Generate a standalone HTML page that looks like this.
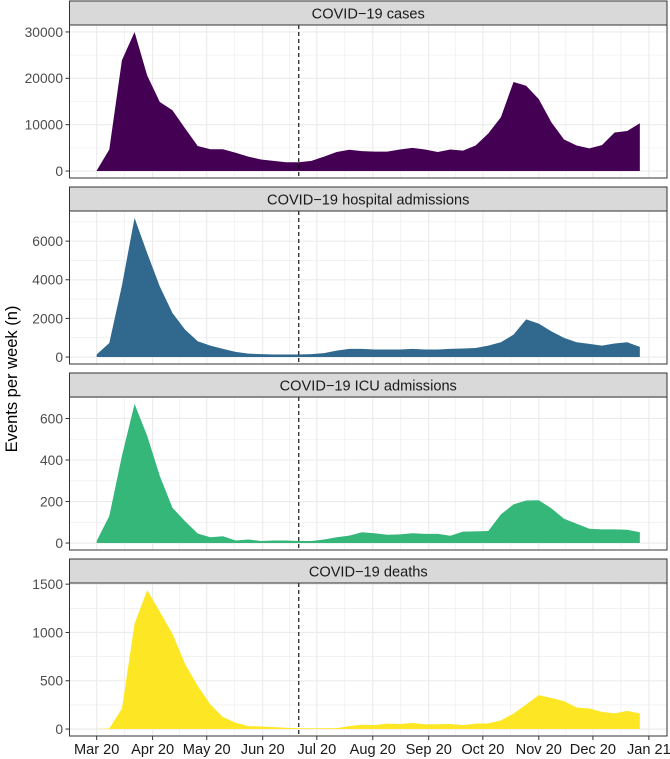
<!DOCTYPE html>
<html><head><meta charset="utf-8"><style>
html,body{margin:0;padding:0;background:#fff;}
svg{display:block;font-family:"Liberation Sans",Arial,sans-serif;}
</style></head><body>
<svg id="chart" width="670" height="759" viewBox="0 0 670 759" xmlns="http://www.w3.org/2000/svg"></svg>
<script>
// ---- data ----
const startDay = 0; // week 0 = 1 Mar 2020 (days since 1 Mar 2020)
const weekStepDays = 7;
const cases = [100,4650,23900,30000,20600,14900,13100,9200,5400,4700,4700,3950,3100,2500,2200,1900,1900,2200,3100,4100,4600,4300,4200,4200,4650,5000,4650,4100,4650,4400,5500,8100,11600,19200,18400,15500,10500,6800,5500,4900,5600,8300,8650,10300];
const hospital = [130,730,3700,7200,5380,3650,2280,1420,815,590,420,270,180,150,130,130,130,150,200,335,420,420,390,390,390,420,390,390,420,440,470,590,765,1160,1950,1730,1330,990,765,680,590,700,765,525];
const icu = [10,130,420,670,517,323,170,105,46,28,33,12,17,10,12,12,10,10,17,28,36,52,47,40,42,47,44,44,35,55,56,58,138,186,205,206,167,117,93,69,66,66,64,52];
const deaths = [2,5,211,1090,1440,1214,987,674,447,256,123,65,30,27,20,14,8,8,8,10,30,45,40,56,52,63,49,49,52,40,56,59,90,160,254,351,322,289,223,213,178,162,188,162];
const panelTitles = ["COVID\u221219 cases","COVID\u221219 hospital admissions","COVID\u221219 ICU admissions","COVID\u221219 deaths"];
const yTicks = [[0,10000,20000,30000],[0,2000,4000,6000],[0,200,400,600],[0,500,1000,1500]];
const monthLabels = ["Mar 20","Apr 20","May 20","Jun 20","Jul 20","Aug 20","Sep 20","Oct 20","Nov 20","Dec 20","Jan 21"];
const monthDays = [0,31,61,92,122,153,184,214,245,275,306];
const cutoffDay = 112;

const series = [cases,hospital,icu,deaths];
const colors = ["#440154","#31688e","#35b779","#fde725"];
const names = ["cases","hospital","icu","deaths"];

const NS = "http://www.w3.org/2000/svg";
const svg = document.getElementById("chart");
function mk(tag, attrs, parent){const e=document.createElementNS(NS,tag);for(const k in attrs)e.setAttribute(k,attrs[k]);(parent||svg).appendChild(e);return e;}

const PL=69.5, PR=667;
const nPts = cases.length;
const dMin = startDay, dMax = startDay + weekStepDays*(nPts-1);
const dPad = (dMax-dMin)*0.05;
function xScale(d){return PL + (d-(dMin-dPad))/((dMax+dPad)-(dMin-dPad))*(PR-PL);}

for(let p=0;p<4;p++){
  const off = 186*p;
  const sTop = 1+off, pTop = 25+off, pBot = 178+off;
  const data = series[p];
  const maxV = Math.max(...data);
  const yLo = -maxV*0.05, yHi = maxV*1.05;
  const y = v => pBot - (v-yLo)/(yHi-yLo)*(pBot-pTop);
  const g = mk("g",{});
  
  
  const strip = mk("rect",{x:PL,y:sTop,width:PR-PL,height:pTop-sTop,fill:"#d9d9d9",stroke:"#333",'stroke-width':1},g);
  
  
  const st = mk("text",{x:(PL+PR)/2,y:sTop+17.5,'text-anchor':'middle','font-size':14.6,fill:'#1a1a1a'},g);
  st.textContent = panelTitles[p];
  
  
  mk("rect",{x:PL,y:pTop,width:PR-PL,height:pBot-pTop,fill:"#fff"},g);
  const yt = yTicks[p];
  for(let i=0;i<yt.length;i++){
    const mv = yt[i]+(yt[1]-yt[0])/2;
    if(y(mv)>pTop) mk("line",{x1:PL,x2:PR,y1:y(mv),y2:y(mv),stroke:"#ebebeb",'stroke-width':0.6},g);
  }
  for(let i=0;i<monthDays.length-1;i++){
    const md=(monthDays[i]+monthDays[i+1])/2;
    mk("line",{x1:xScale(md),x2:xScale(md),y1:pTop,y2:pBot,stroke:"#ebebeb",'stroke-width':0.6},g);
  }
  yt.forEach(v=>mk("line",{x1:PL,x2:PR,y1:y(v),y2:y(v),stroke:"#ebebeb",'stroke-width':1.1},g));
  monthDays.forEach(d=>{if(xScale(d)<PR) mk("line",{x1:xScale(d),x2:xScale(d),y1:pTop,y2:pBot,stroke:"#ebebeb",'stroke-width':1.1},g);});
  let dstr = "M"+xScale(dMin)+","+y(0);
  data.forEach((v,i)=>{dstr+=" L"+xScale(startDay+i*weekStepDays).toFixed(2)+","+y(v).toFixed(2);});
  dstr += " L"+xScale(dMax)+","+y(0)+" Z";
  const area = mk("path",{d:dstr,fill:colors[p]},g);
  
  
  const cl = mk("line",{x1:xScale(cutoffDay),x2:xScale(cutoffDay),y1:pTop,y2:pBot,stroke:"#000",'stroke-width':1.1,'stroke-dasharray':'4,3'},g);
  
  
  mk("rect",{x:PL,y:pTop,width:PR-PL,height:pBot-pTop,fill:"none",stroke:"#333",'stroke-width':1},g);
  yt.forEach(v=>{
    mk("line",{x1:PL-4,x2:PL,y1:y(v),y2:y(v),stroke:"#333",'stroke-width':1},g);
    const t = mk("text",{x:PL-6.5,y:y(v)+4.9,'text-anchor':'end','font-size':13.8,fill:'#4d4d4d'},g);
    t.textContent = String(v);
    
    
  });
  if(p===3){
    monthDays.forEach((d,i)=>{
      mk("line",{x1:xScale(d),x2:xScale(d),y1:pBot,y2:pBot+4,stroke:"#333",'stroke-width':1},g);
      const t = mk("text",{x:xScale(d),y:pBot+18,'text-anchor':'middle','font-size':14.6,fill:'#1a1a1a'},g);
      t.textContent = monthLabels[i];
      
      
    });
  }
}
const yt = mk("text",{x:0,y:0,transform:"translate(17,379) rotate(-90)",'text-anchor':'middle','font-size':16.5,fill:'#000'});
yt.textContent = "Events per week (n)";


</script>
</body></html>
